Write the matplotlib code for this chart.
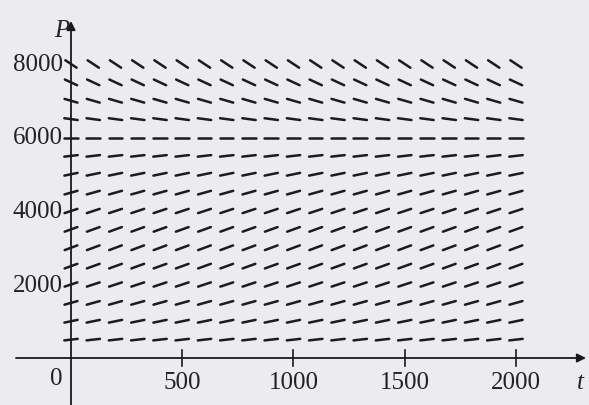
import numpy as np
import matplotlib
matplotlib.use('Agg')
import matplotlib.pyplot as plt
from matplotlib.collections import LineCollection

# direction field grid (t columns, P rows) and slope dP/dt read per row
t_cols = [0, 100, 200, 300, 400, 500, 600, 700, 800, 900, 1000,
          1100, 1200, 1300, 1400, 1500, 1600, 1700, 1800, 1900, 2000]
P_rows = [500, 1000, 1500, 2000, 2500, 3000, 3500, 4000,
          4500, 5000, 5500, 6000, 6500, 7000, 7500, 8000]
slopes = [0.69, 1.25, 1.69, 2.0, 2.19, 2.25, 2.19, 2.0,
          1.69, 1.25, 0.69, 0.0, -0.81, -1.75, -2.81, -4.0]

t_ticks = [500, 1000, 1500, 2000]
P_ticks = [2000, 4000, 6000, 8000]

W, H = 589, 406
X0, XS = 71, 0.2225      # pixel of t=0, px per unit t
Y0, YS = 359, 0.03675    # pixel (from top) of P=0, px per unit P
SEG_LEN = 13.5           # segment length in px
BG = '#ebebf0'

fig = plt.figure(figsize=(W / 100, H / 100), dpi=100)
fig.patch.set_facecolor(BG)
ax = fig.add_axes([0, 0, 1, 1])
ax.set_facecolor(BG)
ax.set_xlim(-X0 / XS, (W - X0) / XS)
ax.set_ylim((Y0 - H) / YS, Y0 / YS)
ax.axis('off')

serif = ['Liberation Serif', 'DejaVu Serif']
txt = dict(fontsize=18, family=serif, color='#222222')

# axes with arrows
ax.annotate('', xy=((586 - X0) / XS, 0), xytext=((16 - X0) / XS, 0),
            arrowprops=dict(arrowstyle='-|>', lw=1.3, color='#1a1a1a',
                            mutation_scale=13, shrinkA=0, shrinkB=0))
ax.annotate('', xy=(0, (Y0 - 22) / YS), xytext=(0, (Y0 - H - 5) / YS),
            arrowprops=dict(arrowstyle='-|>', lw=1.3, color='#1a1a1a',
                            mutation_scale=13, shrinkA=0, shrinkB=0))

# ticks on t axis
for tk in t_ticks:
    ax.plot([tk, tk], [-8 / YS, 8 / YS], color='#1a1a1a', lw=1.2)
    ax.text(tk, -24 / YS, str(tk), ha='center', va='center', **txt)

for pk in P_ticks:
    ax.text(-8 / XS, pk, str(pk), ha='right', va='center', **txt)

ax.text(-15 / XS, -20 / YS, '0', ha='center', va='center', **txt)
ax.text(-9 / XS, (Y0 - 31) / YS, 'P', ha='center', va='center',
        style='italic', **txt)
ax.text((580 - X0) / XS, -24 / YS, 't', ha='center', va='center',
        style='italic', **txt)

# slope segments, fixed length on screen
segs = []
to_disp = ax.transData
for P, m in zip(P_rows, slopes):
    for t in t_cols:
        p0 = to_disp.transform((t, P))
        p1 = to_disp.transform((t + 1, P + m))
        d = (p1 - p0) / np.hypot(*(p1 - p0))
        a = p0 - d * SEG_LEN / 2
        b = p0 + d * SEG_LEN / 2
        segs.append(to_disp.inverted().transform([a, b]))

lc = LineCollection(segs, colors='#1c1c1c', linewidths=1.8, capstyle='round')
ax.add_collection(lc)

fig.savefig('out.png', dpi=100, facecolor=fig.get_facecolor())
